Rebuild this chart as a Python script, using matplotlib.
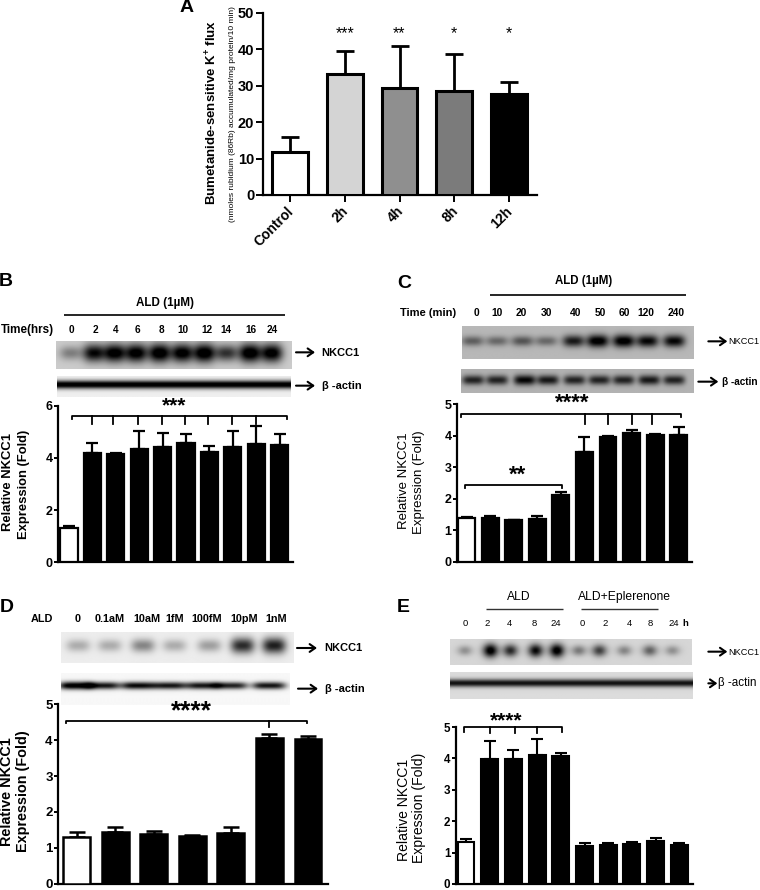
import numpy as np
import matplotlib
matplotlib.use("Agg")
import matplotlib.pyplot as plt
from matplotlib.transforms import ScaledTranslation

plt.rcParams['font.family'] = ['Liberation Sans', 'DejaVu Sans']
plt.rcParams['mathtext.fontset'] = 'custom'
plt.rcParams['mathtext.bf'] = 'Liberation Sans:bold'
plt.rcParams['mathtext.rm'] = 'Liberation Sans:bold'
plt.rcParams['mathtext.default'] = 'bf'

# ---------- data ----------
a_labels = ['Control', '2h', '4h', '8h', '12h']
a_means = [11.7, 33.1, 29.4, 28.4, 27.7]
a_upper = [16.0, 39.6, 40.9, 38.6, 31.0]
a_colors = ['white', '#d4d4d4', '#8f8f8f', '#7b7b7b', 'black']
a_stars = ['', '***', '**', '*', '*']

b_means = [1.30, 4.18, 4.15, 4.35, 4.43, 4.56, 4.24, 4.43, 4.53, 4.48]
b_upper = [1.40, 4.56, 4.19, 5.04, 4.95, 4.92, 4.47, 5.03, 5.22, 4.93]
b_lanes = ['0', '2', '4', '6', '8', '10', '12', '14', '16', '24']

c_means = [1.39, 1.38, 1.33, 1.36, 2.11, 3.50, 3.96, 4.09, 4.03, 4.02]
c_upper = [1.44, 1.46, 1.34, 1.45, 2.21, 3.96, 4.00, 4.20, 4.05, 4.29]
c_lanes = ['0', '10', '20', '30', '40', '50', '60', '120', '240']

d_means = [1.29, 1.44, 1.38, 1.34, 1.40, 4.06, 4.04]
d_upper = [1.43, 1.59, 1.47, 1.37, 1.57, 4.16, 4.12]
d_lanes = ['0', '0.1aM', '10aM', '1fM', '100fM', '10pM', '1nM']

e_means = [1.35, 3.97, 3.98, 4.12, 4.07, 1.21, 1.23, 1.27, 1.37, 1.24]
e_upper = [1.42, 4.54, 4.27, 4.62, 4.18, 1.29, 1.31, 1.35, 1.46, 1.32]
e_lanes = ['0', '2', '4', '8', '24', '0', '2', '4', '8', '24']

b_nkcc = [.35, .9, 1, 1, 1.05, 1, 1.05, .7, 1.05, 1]
c_nkcc = [.45, .4, .5, .4, .8, 1, 1, .9, .9]
c_act = [.75, .75, .9, .8, .75, .75, .75, .8, .75]
d_nkcc = [.25, .25, .4, .25, .3, .75, .8]
d_act = [1, .85, .9, .85, .85, .8, .85]
e_nkcc = [.3, 1, .75, .9, 1, .4, .65, .35, .5, .3]

W, H = 760, 890
fig = plt.figure(figsize=(W / 100, H / 100), dpi=100, facecolor='white')


def make_axes(x0, x1, ytop, ybot):
    ax = fig.add_axes([x0 / W, 1 - ybot / H, (x1 - x0) / W, (ybot - ytop) / H])
    ax.patch.set_alpha(0)
    for s in ('top', 'right'):
        ax.spines[s].set_visible(False)
    return ax


def bars(ax, x, means, upper, width, colors, lw, cap, elw, ymax, ticks, fs, tl):
    means = np.array(means)
    upper = np.array(upper)
    ax.bar(x, means, width=width, color=colors, edgecolor='black', linewidth=lw, zorder=3)
    ax.errorbar(x, means, yerr=[np.zeros_like(means), upper - means], fmt='none',
                ecolor='black', elinewidth=elw, capsize=cap, capthick=elw, zorder=2)
    ax.set_ylim(0, ymax)
    ax.set_yticks(ticks)
    ax.tick_params(axis='y', labelsize=fs, width=1.4, length=tl, pad=1)
    ax.set_xticks([])
    for lab in ax.get_yticklabels():
        lab.set_fontweight('bold')
    for s in ('left', 'bottom'):
        ax.spines[s].set_linewidth(1.6)


# Panel A
ax = make_axes(262.7, 537, 12.7, 195)
xa = np.arange(len(a_means))
ax.set_xlim(-27.3 / 54.75, (537 - 290) / 54.75)
bars(ax, xa, a_means, a_upper, 0.65, a_colors, 2.2, 6.5, 2.0, 50, [0, 10, 20, 30, 40, 50], 10.5, 5)
ax.set_xticks(xa)
ax.set_xticklabels(a_labels, rotation=45, ha='right', rotation_mode='anchor', fontweight='bold', fontsize=10)
ax.tick_params(axis='x', width=1.4, length=5, pad=3)
shift = ScaledTranslation(-2.5 / 72, 1.5 / 72, fig.dpi_scale_trans)
for lab in ax.get_xticklabels():
    lab.set_transform(lab.get_transform() + shift)
for i, s in enumerate(a_stars):
    ax.text(i, 44.2, s, ha='center', va='center', fontsize=11.5)

# Panel B
spacing = 23.4
ax = make_axes(58, 293, 405.7, 562.3)
ax.set_xlim((58 - 69) / spacing, (293 - 69) / spacing)
bars(ax, np.arange(10), b_means, b_upper, 0.74, ['white'] + ['black'] * 9, 1.6, 4, 1.6, 6, [0, 2, 4, 6], 9, 3)

# Panel C
ax = make_axes(457.3, 691.7, 404.3, 562)
ax.set_xlim((457.3 - 466.7) / 23.55, (691.7 - 466.7) / 23.55)
bars(ax, np.arange(10), c_means, c_upper, 0.72, ['white'] + ['black'] * 9, 1.6, 4, 1.6, 5, range(6), 9, 3)

# Panel D
ax = make_axes(58.3, 328, 704.3, 883.7)
ax.set_xlim((58.3 - 76.7) / 38.55, (328 - 76.7) / 38.55)
bars(ax, np.arange(7), d_means, d_upper, 0.70, ['white'] + ['black'] * 6, 1.8, 6, 1.8, 5, range(6), 9.5, 3)

# Panel E
ax = make_axes(456, 692.7, 727, 884)
ax.set_xlim((456 - 466) / 23.7, (692.7 - 466) / 23.7)
bars(ax, np.arange(10), e_means, e_upper, 0.71, ['white'] + ['black'] * 9, 1.5, 4, 1.5, 5, range(6), 8.4, 3)

# ---------- overlay in pixel coordinates ----------
ov = fig.add_axes([0, 0, 1, 1], zorder=5)
ov.set_xlim(0, W)
ov.set_ylim(H, 0)
ov.axis('off')
ov.patch.set_alpha(0)


def blot(x0, x1, y0, y1, bg, yc, sy, lanes=None, vals=None, sx=9, base=0.0, by=5, power=2):
    xs = np.arange(int(x0), int(x1) + 1) + 0.5
    ys = np.arange(int(y0), int(y1) + 1) + 0.5
    X, Y = np.meshgrid(xs, ys)
    dark = np.zeros_like(X)
    if base:
        dark += base * np.exp(-((Y - yc) / by) ** 2)
    if lanes is not None:
        for lx, v in zip(lanes, vals):
            dark += v * np.exp(-np.abs((X - lx) / sx) ** power) * np.exp(-((Y - yc) / (sy * (0.6 + 0.4 * v))) ** 2)
    img = np.clip(bg - dark * bg * 1.1, 0, 1)
    ov.imshow(img, cmap='gray', vmin=0, vmax=1, extent=(x0, x1, y1, y0), aspect='auto', interpolation='bilinear', zorder=1)


def zx(ox, z):
    return ox + np.array(z, dtype=float) / 3


# blots
blot(56, 292, 341, 369, .80, 353.5, 9.5, zx(0, [212, 282, 345, 410, 480, 548, 615, 682, 752, 818]), b_nkcc, sx=11, power=2.5)
blot(57, 291, 376, 397, .94, 385, 4, base=1.0, by=4.3)
blot(462, 694, 326, 359, .72, 341.5, 6.5, zx(380, [278, 352, 428, 500, 582, 655, 733, 805, 885]), c_nkcc, sx=11, power=3)
blot(461, 694, 369, 393, .70, 380.5, 5.5, zx(380, [280, 352, 435, 505, 585, 660, 733, 810, 885]), c_act, sx=11, power=4)
blot(61, 294, 632, 663, .93, 646, 9, zx(0, [235, 330, 430, 525, 630, 730, 825]), d_nkcc, sx=12, power=3)
blot(61, 290, 673, 705, .97, 686, 4, zx(0, [228, 310, 415, 510, 610, 695, 810]), d_act, sx=17, power=4)
blot(450, 692, 639, 665, .84, 651, 7, zx(380, [255, 332, 392, 468, 532, 598, 660, 735, 812, 880]), e_nkcc, sx=7.5)
blot(450, 693, 672, 699, .86, 683.5, 4, base=.85, by=4)


def txt(x, y, s, size=8.6, weight='bold', **kw):
    kw.setdefault('ha', 'center')
    kw.setdefault('va', 'center')
    ov.text(x, y, s, fontsize=size, fontweight=weight, zorder=6, **kw)


def vtxt(x, y, s, size, weight):
    ov.text(x, y, s, fontsize=size, fontweight=weight, zorder=6, rotation=90,
            rotation_mode='anchor', ha='center', va='baseline')


def arrow(x0, x1, y):
    ov.annotate('', xy=(x1, y), xytext=(x0, y), zorder=6,
                arrowprops=dict(arrowstyle='->,head_width=0.28,head_length=0.4', lw=1.5, color='black',
                                shrinkA=0, shrinkB=0))


def hline(x0, x1, y, lw=1.2, color='black'):
    ov.plot([x0, x1], [y, y], color=color, lw=lw, solid_capstyle='butt', zorder=6)


def bracket(ox, oy, x0, x1, y, drop, ticks=(), tdrop=0):
    Xs = [ox + x0 / 3, ox + x0 / 3, ox + x1 / 3, ox + x1 / 3]
    Ys = [oy + (y + drop) / 3, oy + y / 3, oy + y / 3, oy + (y + drop) / 3]
    ov.plot(Xs, Ys, color='black', lw=1.3, zorder=6)
    for t in ticks:
        ov.plot([ox + t / 3] * 2, [oy + y / 3, oy + (y + tdrop) / 3], color='black', lw=1.3, zorder=6)


# Panel letters
for x, y, s in [(187, 8, 'A'), (6, 282, 'B'), (404, 283, 'C'), (7, 607, 'D'), (403, 607, 'E')]:
    txt(x, y, s, size=14)

# Panel A y labels
txt(212, 112, 'Bumetanide-sensitive K$^{+}$ flux', size=9.5, rotation=90)
txt(233, 114, '(nmoles rubidium (86Rb) accumulated/mg protein/10 min)', size=6, rotation=90, weight='normal')

# y labels
vtxt(10.7, 482, 'Relative NKCC1', 9.4, 'bold')
vtxt(26.7, 484, 'Expression (Fold)', 9.4, 'bold')
vtxt(406.7, 481, 'Relative NKCC1', 9.5, 'normal')
vtxt(421.7, 482.5, 'Expression (Fold)', 9.5, 'normal')
vtxt(10.7, 791.5, 'Relative NKCC1', 10.4, 'bold')
vtxt(26.7, 791.5, 'Expression (Fold)', 10.4, 'bold')
vtxt(408.3, 810, 'Relative NKCC1', 10.1, 'normal')
vtxt(422.5, 808, 'Expression (Fold)', 10.1, 'normal')

# Panel B annotations
ob = 270
txt(165, ob + 100 / 3, 'ALD (1µM)', size=8.4)
hline(64, 285, ob + 135 / 3)
txt(27.5, ob + 180 / 3, 'Time(hrs)', size=8.4)
for z, s in zip([215, 287, 348, 413, 484, 548, 620, 678, 752, 817], b_lanes):
    txt(z / 3, ob + 180 / 3, s, size=7.2)
arrow(296, 315, ob + 247 / 3)
txt(965 / 3, ob + 248 / 3, 'NKCC1', size=8, ha='left')
arrow(296, 315, ob + 347 / 3)
txt(965 / 3, ob + 349 / 3, 'β -actin', size=8, ha='left')
txt(522 / 3, ob + 407 / 3, '***', size=15)
bracket(0, ob, 217, 860, 438, 10, [275, 340, 413, 485, 555, 625, 695, 767], 25)

# Panel C annotations
oc = 380
txt(oc + 610 / 3, ob + 33 / 3, 'ALD (1µM)', size=8.3)
hline(oc + 330 / 3, oc + 917 / 3, ob + 75 / 3)
txt(oc + 145 / 3, ob + 130 / 3, 'Time (min)', size=8)
for z, s in zip([288, 352, 425, 498, 588, 660, 733, 797, 888], c_lanes):
    txt(oc + z / 3, ob + 130 / 3, s, size=7.4)
arrow(oc + 985 / 3, oc + 1042 / 3, ob + 214 / 3)
txt(oc + 1044 / 3, ob + 216 / 3, 'NKCC1', size=6.6, ha='left', weight='normal')
arrow(oc + 955 / 3, oc + 1015 / 3, ob + 335 / 3)
txt(oc + 1025 / 3, ob + 336 / 3, 'β -actin', size=7.2, ha='left')
txt(oc + 578 / 3, ob + 399 / 3, '****', size=16)
txt(oc + 412 / 3, ob + 615 / 3, '**', size=16)
bracket(oc, ob, 243, 903, 433, 8, [615, 685, 755, 817], 28)
bracket(oc, ob, 255, 547, 645, 8)

# Panel D annotations
od = 580
txt(127 / 3, od + 118 / 3, 'ALD', size=7.8)
for z, s in zip([232, 328, 440, 523, 620, 733, 830], d_lanes):
    txt(z / 3, od + 118 / 3, s, size=7.8)
arrow(297, 317, od + 204 / 3)
txt(972 / 3, od + 205 / 3, 'NKCC1', size=8, ha='left')
arrow(298, 318, od + 326 / 3)
txt(975 / 3, od + 327 / 3, 'β -actin', size=8, ha='left')
txt(575 / 3, od + 394 / 3, '****', size=19)
bracket(0, od, 198, 920, 422, 8, [808], 18)

# Panel E annotations
txt(oc + 415 / 3, od + 52 / 3, 'ALD', size=8.7, weight='normal')
txt(oc + 733 / 3, od + 52 / 3, 'ALD+Eplerenone', size=8.7, weight='normal')
hline(oc + 317 / 3, oc + 550 / 3, od + 88 / 3, lw=1, color='#333333')
hline(oc + 602 / 3, oc + 835 / 3, od + 88 / 3, lw=1, color='#333333')
for z, s in zip([255, 322, 388, 462, 527, 608, 675, 747, 812, 880], e_lanes):
    txt(oc + z / 3, od + 132 / 3, s, size=6.8, weight='normal')
txt(oc + 917 / 3, od + 132 / 3, 'h', size=6.8)
arrow(oc + 985 / 3, oc + 1042 / 3, od + 215 / 3)
txt(oc + 1044 / 3, od + 217 / 3, 'NKCC1', size=6.6, weight='normal', ha='left')
arrow(oc + 985 / 3, oc + 1012 / 3, od + 310 / 3)
txt(oc + 1015 / 3, od + 310 / 3, 'β -actin', size=8.4, weight='normal', ha='left')
txt(oc + 378 / 3, od + 422 / 3, '****', size=15)
bracket(oc, od, 253, 545, 441, 15, [329, 405, 472], 18)

ov.set_xlim(0, W)
ov.set_ylim(H, 0)
fig.savefig('out.png', dpi=100)
